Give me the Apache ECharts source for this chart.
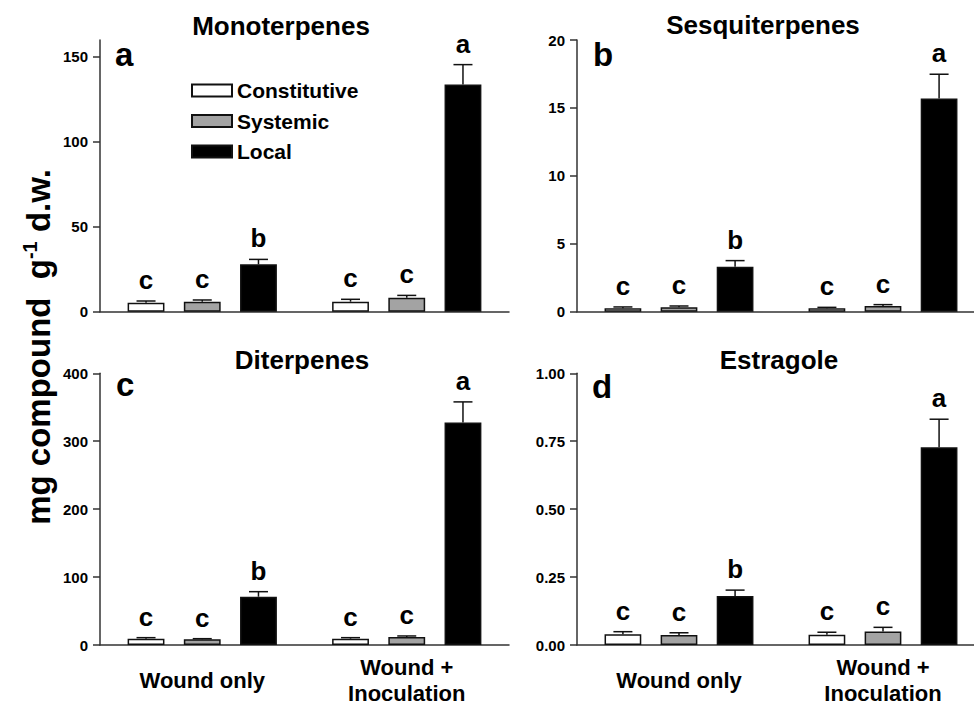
<!DOCTYPE html>
<html><head><meta charset="utf-8">
<script src="https://cdn.jsdelivr.net/npm/echarts@6/dist/echarts.min.js"></script>
<style>html,body{margin:0;padding:0;background:#fff}#c{width:974px;height:707px}</style>
</head><body><div id="c"></div>
<script>
// ---- data ----
const categories = ['Wound only', 'Wound +\nInoculation'];
const seriesNames = ['Constitutive', 'Systemic', 'Local'];
const panelTitles = ['Monoterpenes', 'Sesquiterpenes', 'Diterpenes', 'Estragole'];
const panelLetters = ['a', 'b', 'c', 'd'];

// rows: Constitutive, Systemic, Local ; columns: Wound only, Wound + Inoculation
const monoValues = [[5.3, 5.9], [5.9, 8.2], [27.9, 133.8]];
const monoErrors = [[1.0, 1.4], [1.0, 1.4], [2.9, 11.7]];
const sesqValues = [[0.25, 0.25], [0.32, 0.42], [3.31, 15.69]];
const sesqErrors = [[0.10, 0.07], [0.10, 0.10], [0.45, 1.79]];
const diterValues = [[9.3, 9.3], [8.3, 11.8], [71.1, 327.4]];
const diterErrors = [[1.5, 1.5], [1.0, 1.5], [7.4, 30.5]];
const estrValues = [[0.040, 0.038], [0.037, 0.050], [0.180, 0.728]];
const estrErrors = [[0.009, 0.009], [0.008, 0.015], [0.022, 0.103]];
const groupLetters = [['c', 'c'], ['c', 'c'], ['b', 'a']];

const monoTicks = [0, 50, 100, 150];
const sesqTicks = [0, 5, 10, 15, 20];
const diterTicks = [0, 100, 200, 300, 400];
const estrTicks = [0, 0.25, 0.5, 0.75, 1.0];
const estrTickLabels = ['0.00', '0.25', '0.50', '0.75', '1.00'];
const axisMax = [160, 20, 400, 1.0];

// ---- style ----
const FONT = 'Arial, "Liberation Sans", Helvetica, sans-serif';
const CAT_GAP = 0.27, BAR_GAP = 0.526;
const fills = ['#ffffff', '#a3a3a3', '#000000'];
const INK = '#111';

const panels = [
  {values: monoValues, errors: monoErrors, ticks: monoTicks, fmt: v => String(v)},
  {values: sesqValues, errors: sesqErrors, ticks: sesqTicks, fmt: v => String(v)},
  {values: diterValues, errors: diterErrors, ticks: diterTicks, fmt: v => String(v)},
  {values: estrValues, errors: estrErrors, ticks: estrTicks, fmt: v => estrTickLabels[estrTicks.indexOf(v)]}
];
const grids = [
  {left: 100, top: 40, width: 409, height: 271.7},
  {left: 577, top: 40, width: 408, height: 271.7},
  {left: 100, top: 373.3, width: 409, height: 271.7},
  {left: 577, top: 373.3, width: 408, height: 271.7}
];

const xAxes = [], yAxes = [], series = [];
panels.forEach((p, g) => {
  const bottomRow = g >= 2;
  xAxes.push({
    type: 'category', gridIndex: g, data: categories,
    axisLine: {lineStyle: {color: '#333', width: 1.5}},
    axisTick: {show: false},
    axisLabel: {show: bottomRow, interval: 0, color: '#000', fontFamily: FONT, fontWeight: 'bold',
      fontSize: 22, lineHeight: 26, verticalAlign: 'middle', margin: 35}
  });
  yAxes.push({
    type: 'value', gridIndex: g, min: 0, max: axisMax[g],
    splitLine: {show: false},
    axisLine: {show: true, lineStyle: {color: '#333', width: 1.5}},
    axisTick: {show: true, length: 7, lineStyle: {color: '#333', width: 1.5}, customValues: p.ticks},
    axisLabel: {color: '#000', fontFamily: FONT, fontWeight: 'bold', fontSize: 15, margin: 12,
      customValues: p.ticks, formatter: p.fmt}
  });
  seriesNames.forEach((name, s) => {
    series.push({
      type: 'bar', name, xAxisIndex: g, yAxisIndex: g,
      data: p.values[s],
      barCategoryGap: (CAT_GAP * 100) + '%', barGap: (BAR_GAP * 100) + '%',
      itemStyle: {color: fills[s], borderColor: INK, borderWidth: 1.5},
      emphasis: {disabled: true}, animation: false
    });
  });
  const data = [];
  const letters = [];
  for (let s = 0; s < 3; s++) for (let c = 0; c < 2; c++) {
    data.push([c, s, p.values[s][c], p.errors[s][c]]);
    letters.push(groupLetters[s][c]);
  }
  series.push({
    type: 'custom', xAxisIndex: g, yAxisIndex: g, z: 10, clip: false, animation: false,
    encode: {x: 0, y: 2}, data,
    renderItem(params, api) {
      const c = api.value(0), s = api.value(1), v = api.value(2), e = api.value(3);
      const band = api.size([1, 0])[0];
      const bw = band * (1 - CAT_GAP) / (3 + 2 * BAR_GAP);
      const off = (s - 1) * bw * (1 + BAR_GAP);
      const top = api.coord([c, v]);
      const et = api.coord([c, v + e]);
      const x = top[0] + off;
      const half = 9.5;
      const st = {stroke: INK, lineWidth: 1.5};
      return {type: 'group', children: [
        {type: 'line', shape: {x1: x, y1: top[1], x2: x, y2: et[1]}, style: st},
        {type: 'line', shape: {x1: x - half, y1: et[1], x2: x + half, y2: et[1]}, style: st},
        {type: 'text', x: x, y: et[1] - 8, style: {text: letters[params.dataIndex], fill: '#000',
          font: 'bold 26px ' + FONT, align: 'center', verticalAlign: 'bottom'}}
      ]};
    }
  });
});

const titlePos = [[281, 26], [763, 25], [302, 359.5], [779, 359.5]];
const letterPos = [[115, 54.5], [593, 54], [116, 384], [592, 386]];
const graphics = [];
panelTitles.forEach((t, i) => graphics.push({type: 'text', x: titlePos[i][0], y: titlePos[i][1],
  style: {text: t, fill: '#000', font: 'bold 26px ' + FONT, align: 'center', verticalAlign: 'middle'}}));
panelLetters.forEach((t, i) => graphics.push({type: 'text', x: letterPos[i][0], y: letterPos[i][1],
  style: {text: t, fill: '#000', font: 'bold 33px ' + FONT, align: 'left', verticalAlign: 'middle'}}));
graphics.push({type: 'text', x: 38, y: 347, rotation: Math.PI / 2,
  style: {text: 'mg compound  g{s|-1} d.w.', fill: '#000', font: 'bold 33px ' + FONT,
    align: 'center', verticalAlign: 'middle', lineHeight: 36,
    rich: {s: {fontSize: 20, fontWeight: 'bold', fontFamily: FONT, fill: '#000', verticalAlign: 'top', lineHeight: 36}}}});

const chart = echarts.init(document.getElementById('c'), null, {renderer: 'svg'});
chart.setOption({
  backgroundColor: '#fff',
  animation: false,
  grid: grids.map(g => Object.assign({outerBoundsMode: 'none', containLabel: false}, g)),
  xAxis: xAxes, yAxis: yAxes, series,
  legend: {data: seriesNames, orient: 'vertical', left: 191, top: 80, padding: 0, itemGap: 9.5,
    itemWidth: 40, itemHeight: 12, icon: 'rect', selectedMode: false,
    textStyle: {fontFamily: FONT, fontWeight: 'bold', fontSize: 21, color: '#000'}},
  graphic: graphics
});
</script></body></html>
